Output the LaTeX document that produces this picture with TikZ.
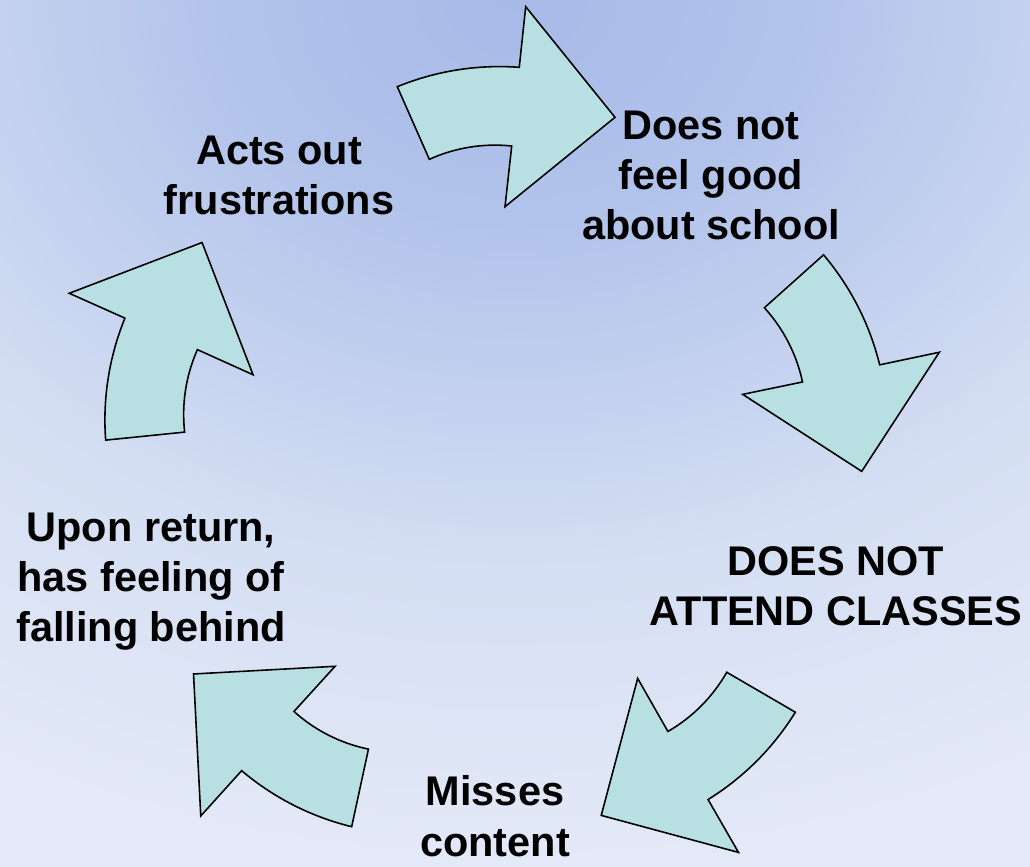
\documentclass[tikz,border=0pt]{standalone}
\usepackage{fontspec}
\setmainfont{Liberation Sans}
\usepackage{xcolor}
\usepackage{tikz}
\definecolor{arrowfill}{HTML}{B8E0E2}
\definecolor{bgtop}{HTML}{A7B9E7}
\definecolor{bgupper}{HTML}{B2C3EB}
\definecolor{bglower}{HTML}{D5DFF3}
\definecolor{bgbottom}{HTML}{E3E9F7}
\pgfdeclareradialshading{bgglow}{\pgfpoint{0bp}{0bp}}{color(0bp)=(bgtop); color(6.5bp)=(bgupper); color(16.5bp)=(bglower); color(25bp)=(bgbottom); color(50bp)=(bgbottom)}
\tikzset{
  cyclenode/.style={align=center,inner sep=0pt,anchor=base,font=\fontsize{23.6}{28.5}\selectfont\bfseries,text=black},
  cyclearrow/.style={draw=black,line width=0.9pt,fill=arrowfill,line join=miter},
}
\begin{document}
\begin{tikzpicture}[x=0.02cm,y=-0.02cm]
    \useasboundingbox (0,0) rectangle (1030,866);
    \begin{scope}
      \clip (0,0) rectangle (1030,866);
      \shade[shading=bgglow] (-585,-866) rectangle (1615,866);
    \end{scope}
    \coordinate (hub) at (494.7,464.1);
    \foreach \k in {0,...,4}{
      \begin{scope}[rotate around={-72*\k:(hub)}]
        \draw[cyclearrow] (397.3,86.7) arc[start angle=-112.3,end angle=-85.76,radius=269]
          -- (525.7,6.7) -- (615,117.3) -- (505,206.7) -- (511.7,146)
          arc[start angle=-83.97,end angle=-114.4,radius=159] -- cycle;
      \end{scope}
    }
    \node[cyclenode] (feel) at (711,239.3) {Does not\\feel good\\about school};
    \node[cyclenode] (attend) at (836,625.3) {DOES NOT\\ATTEND CLASSES};
    \node[cyclenode] (misses) at (495,856) {Misses\\content};
    \node[cyclenode] (behind) at (151,641.7) {Upon return,\\has feeling of\\falling behind};
    \node[cyclenode] (acts) at (279,214.3) {Acts out\\frustrations};
  \end{tikzpicture}
\end{document}
